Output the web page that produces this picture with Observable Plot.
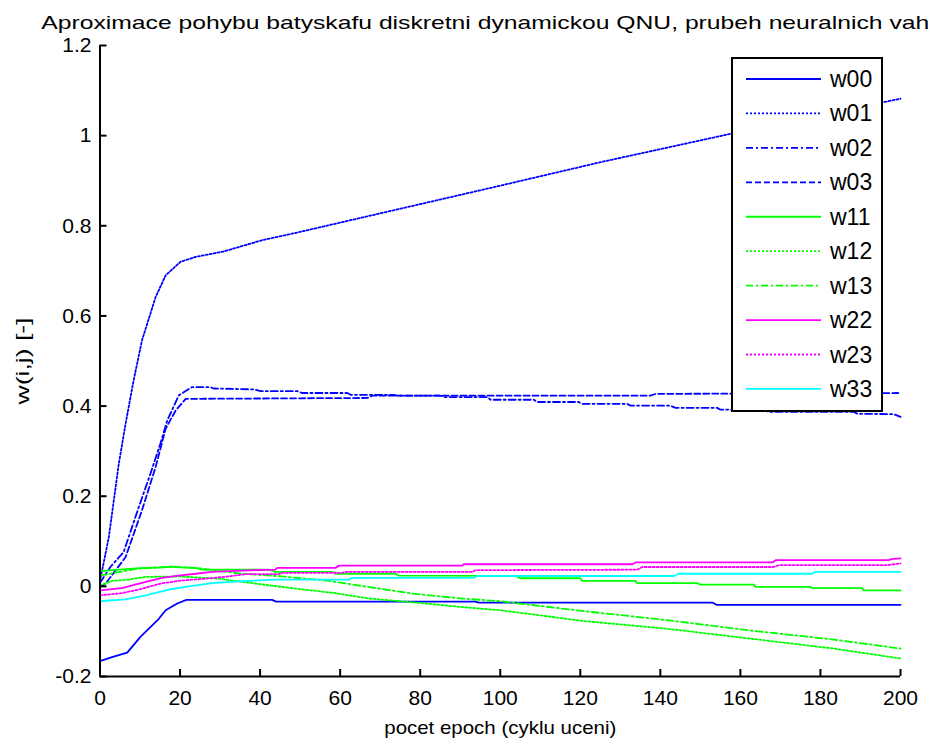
<!DOCTYPE html>
<html><head><meta charset="utf-8">
<script src="https://cdn.jsdelivr.net/npm/d3@7"></script>
<script src="https://cdn.jsdelivr.net/npm/@observablehq/plot@0.6"></script>
<style>body{margin:0;background:#fff;} svg{display:block}</style>
</head><body><div id="chart"></div>
<script>
const titleText = "Aproximace pohybu batyskafu diskretni dynamickou QNU, prubeh neuralnich vah";
const xLabel = "pocet epoch (cyklu uceni)";
const yLabel = "w(i,j) [-]";
const names = ["w00","w01","w02","w03","w11","w12","w13","w22","w23","w33"];
const colors = ["#0000ff","#0000ff","#0000ff","#0000ff","#00ff00","#00ff00","#00ff00","#ff00ff","#ff00ff","#00ffff"];
const dashes = [null,"2,2","7,3,2,3","6,3",null,"2,2","7,3,2,3",null,"2,2",null];
const xTicks = [0,20,40,60,80,100,120,140,160,180,200];
const yTicks = [-0.2,0,0.2,0.4,0.6,0.8,1,1.2];

const w00_t = [0,3,6.8,10.1,12.2,14.7,16.4,19.3,21.6,43,44,93.8,94.6,153,154,200];
const w00_v = [-0.166,-0.157,-0.147,-0.112,-0.094,-0.072,-0.053,-0.038,-0.030,-0.030,-0.034,-0.034,-0.036,-0.036,-0.041,-0.041];
const w01_t = [0,2.2,4.7,6.4,8.4,10.5,13.9,16.4,20.1,23.9,30.9,40.5,48.8,66.8,100,125,157.5,200];
const w01_v = [0.012,0.109,0.272,0.361,0.457,0.546,0.642,0.690,0.720,0.731,0.743,0.768,0.784,0.821,0.889,0.941,1.004,1.082];
const w02_t = [0,2.6,5.9,9.7,12.6,15.1,16.8,19.7,23,27.6,28.4,38.4,40.1,49.3,50.5,61.8,62.6,73.4,74.2,85.1,85.9,96.7,97.6,108.4,109.2,119.6,120.5,131.7,132.5,142.5,143.8,154.2,155,166,167,188.4,189.2,198.4,200];
const w02_v = [0.008,0.043,0.076,0.176,0.25,0.317,0.368,0.424,0.442,0.442,0.439,0.437,0.433,0.433,0.429,0.429,0.425,0.425,0.423,0.423,0.42,0.42,0.414,0.414,0.409,0.409,0.405,0.405,0.401,0.401,0.396,0.396,0.392,0.392,0.387,0.387,0.383,0.382,0.376];
const w03_t = [0,1.4,6.4,10.5,13.9,16.4,18.9,21.4,66.8,68,137.5,138.8,200];
const w03_v = [-0.002,0.006,0.065,0.169,0.265,0.35,0.39,0.416,0.418,0.423,0.423,0.427,0.429];
const w11_t = [0,7.2,11.4,16,18,20,23.9,25.5,42.2,43.8,58,58.8,73.8,74.6,103.8,105,120,120.5,133.8,134.2,149.2,150,163.3,163.8,177.5,177.9,190.4,190.8,200];
const w11_v = [0.034,0.039,0.041,0.042,0.044,0.042,0.041,0.037,0.037,0.032,0.032,0.028,0.028,0.024,0.023,0.018,0.018,0.012,0.012,0.007,0.007,0.004,0.004,-0.001,-0.001,-0.004,-0.004,-0.009,-0.009];
const w12_t = [0,3,7.2,11.4,19.7,29.7,38.9,48.8,58.8,67.2,78.8,90.5,100,120.9,141.7,162.5,183.3,200];
const w12_v = [0.002,0.012,0.015,0.021,0.022,0.017,0.006,-0.005,-0.015,-0.027,-0.036,-0.046,-0.053,-0.077,-0.094,-0.116,-0.138,-0.16];
const w13_t = [0,5,8.9,18,25,30,35.5,45.5,57.2,69.7,78,90.5,100,120.9,141.7,162.5,183.3,200];
const w13_v = [0.024,0.032,0.039,0.044,0.040,0.034,0.028,0.022,0.012,-0.005,-0.016,-0.027,-0.033,-0.055,-0.075,-0.098,-0.118,-0.138];
const w22_t = [0,5.5,9.7,15.5,19.7,23.9,28,35.5,43.8,44.3,58.8,59.7,90.5,90.9,133,133.8,168,168.8,197,198,200];
const w22_v = [-0.009,-0.004,0.006,0.019,0.024,0.028,0.032,0.035,0.037,0.041,0.041,0.046,0.046,0.049,0.049,0.053,0.053,0.058,0.058,0.061,0.062];
const w23_t = [0,5.5,9.7,15.5,20.5,26.4,32.2,36.3,44.7,45.5,60.5,61.3,93,93.8,134.2,135.5,168.3,169.6,196.7,199.2,200];
const w23_v = [-0.02,-0.015,-0.007,0.007,0.013,0.017,0.022,0.027,0.027,0.030,0.030,0.032,0.032,0.036,0.037,0.043,0.043,0.047,0.047,0.050,0.051];
const w33_t = [0,6.4,11.4,17.2,22.2,28,34.7,43.8,62.2,63,93.5,94.3,143.4,144.6,177.9,178.7,200];
const w33_v = [-0.033,-0.029,-0.02,-0.007,0,0.007,0.011,0.015,0.015,0.019,0.019,0.023,0.023,0.028,0.028,0.032,0.032];

const seriesT = [w00_t,w01_t,w02_t,w03_t,w11_t,w12_t,w13_t,w22_t,w23_t,w33_t];
const seriesV = [w00_v,w01_v,w02_v,w03_v,w11_v,w12_v,w13_v,w22_v,w23_v,w33_v];
const rows = names.map((n,i) => seriesT[i].map((t,j) => ({name:n, t, v: seriesV[i][j]})));

const fmt = d => String(Math.round(d*10)/10);
const font = "Arial, 'Liberation Sans', Helvetica, sans-serif";
const W = 933, H = 745, mT = 45, mB = 69, mL = 99.5, mR = 33;
const frameW = W - mL - mR, frameH = H - mT - mB, tick = 7;

const chart = Plot.plot({
  width: W, height: H,
  marginTop: mT, marginBottom: mB, marginLeft: mL, marginRight: mR,
  style: {fontFamily: font, background: "#fff", color: "#000"},
  x: {domain: [0,200]},
  y: {domain: [-0.2,1.2]},
  marks: [
    ...rows.map((data,i) => Plot.line(data, {x:"t", y:"v", stroke: colors[i], strokeWidth: 1.8, strokeDasharray: dashes[i]})),
    Plot.ruleX(xTicks, {x: d => d, insetTop: frameH - tick, stroke: "#000", strokeWidth: 2}),
    Plot.ruleY(yTicks, {y: d => d, insetRight: frameW - tick, stroke: "#000", strokeWidth: 2}),
    Plot.ruleX([0], {stroke:"#000", strokeWidth: 2}),
    Plot.ruleY([-0.2], {stroke:"#000", strokeWidth: 2}),
    Plot.axisX(xTicks, {tickSize: 0, tickPadding: 14, fontSize: 21, label: null, tickFormat: fmt}),
    Plot.axisY(yTicks, {tickSize: 0, tickPadding: 8.5, fontSize: 21, label: null, tickFormat: fmt}),
    Plot.text([titleText], {frameAnchor: "top", dy: -30, dx: -15, fontSize: 19, text: d => d, textAnchor: "middle"}),
    Plot.text([xLabel], {frameAnchor: "bottom", dy: 57, fontSize: 19, text: d => d, textAnchor: "middle"}),
    Plot.text([yLabel], {frameAnchor: "left", dx: -77.5, rotate: -90, fontSize: 19, text: d => d, textAnchor: "middle"})
  ]
});

const svg = d3.select(chart);
// match the stretched text widths of the original figure
const texts = svg.selectAll("text").nodes();
const setLen = (str, len) => texts.filter(t => t.textContent === str).forEach(t => {
  t.setAttribute("textLength", len); t.setAttribute("lengthAdjust", "spacingAndGlyphs");
});
setLen(titleText, 888);
setLen(xLabel, 232);
setLen(yLabel, 87);

const lg = svg.append("g").attr("font-family", font).attr("text-anchor", "start");
lg.append("rect").attr("x",732).attr("y",58).attr("width",150).attr("height",353)
  .attr("fill","#fff").attr("stroke","#000").attr("stroke-width",2);
names.forEach((n,i) => {
  const y = 79 + i*34.44;
  lg.append("line").attr("x1",746).attr("x2",821).attr("y1",y).attr("y2",y)
    .attr("stroke",colors[i]).attr("stroke-width",1.8).attr("stroke-dasharray",dashes[i]);
  lg.append("text").attr("x",830).attr("y",y).attr("dy","0.35em").attr("font-size",23).text(n);
});
document.getElementById("chart").appendChild(chart);
</script>
</body></html>
